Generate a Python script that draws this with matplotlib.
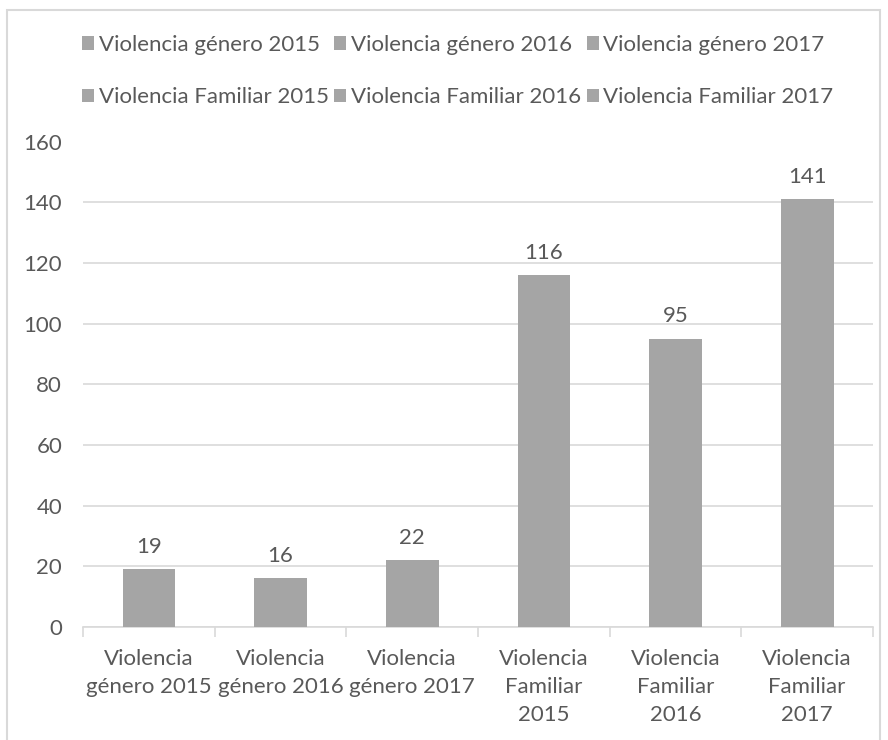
import matplotlib.pyplot as plt
from matplotlib.patches import Patch, Rectangle

categories = ['Violencia género 2015', 'Violencia género 2016', 'Violencia género 2017',
              'Violencia Familiar 2015', 'Violencia Familiar 2016', 'Violencia Familiar 2017']
tick_labels = ['Violencia\ngénero 2015', 'Violencia\ngénero 2016', 'Violencia\ngénero 2017',
               'Violencia\nFamiliar\n2015', 'Violencia\nFamiliar\n2016', 'Violencia\nFamiliar\n2017']
values = [19, 16, 22, 116, 95, 141]
y_ticks = [0, 20, 40, 60, 80, 100, 120, 140, 160]

bar_color = '#A5A5A5'
text_color = '#595959'
grid_color = '#D9D9D9'
fs = 16

plt.rcParams['font.family'] = ['Lato', 'DejaVu Sans']

fig = plt.figure(figsize=(8.88, 7.4), dpi=100)
ax = fig.add_axes([83 / 888, 1 - 627 / 740, 790 / 888, (627 - 141.5) / 740])

x = list(range(len(values)))
bars = ax.bar(x, values, width=0.4, color=bar_color, zorder=3)

# etiquetas de datos sobre las barras
for xi, v in zip(x, values):
    ax.annotate(str(v), (xi, v), xytext=(0, 9), textcoords='offset points',
                ha='center', va='bottom', fontsize=fs, color=text_color)

ax.set_xlim(-0.5, len(values) - 0.5)
ax.set_ylim(0, 160)
ax.set_yticks(y_ticks)
ax.set_yticklabels([str(t) for t in y_ticks])
ax.yaxis.grid(True, color=grid_color, linewidth=1.2, zorder=0)
ax.tick_params(axis='y', length=0, pad=15, labelsize=fs, labelcolor=text_color)

ax.set_xticks(x)
ax.set_xticklabels(tick_labels, linespacing=1.5)
ax.set_xticks([i - 0.5 for i in range(len(values) + 1)], minor=True)
ax.tick_params(axis='x', which='major', length=0, pad=16, labelsize=fs, labelcolor=text_color)
ax.tick_params(axis='x', which='minor', length=7, width=1.2, color=grid_color)

for side in ['top', 'right', 'left']:
    ax.spines[side].set_visible(False)
ax.spines['bottom'].set_color(grid_color)
ax.spines['bottom'].set_linewidth(1.2)

# leyenda: orden por filas con ncol=3
handles = [Patch(facecolor=bar_color, edgecolor='none', label=c) for c in categories]
order = [0, 3, 1, 4, 2, 5]
fig.legend([handles[i] for i in order], [categories[i] for i in order],
           ncol=3, loc='upper left', bbox_to_anchor=(82 / 888, 1 - 35 / 740),
           frameon=False, fontsize=fs, labelcolor=text_color,
           handlelength=0.55, handleheight=0.55, handletextpad=0.2,
           columnspacing=0.25, labelspacing=1.45, borderaxespad=0, borderpad=0)

# borde del gráfico
fig.patches.append(Rectangle((7 / 888, -0.1), 873 / 888, 1.1 - 10 / 740,
                             transform=fig.transFigure, fill=False,
                             edgecolor=grid_color, linewidth=1.5))

fig.savefig('out.png', dpi=100)
